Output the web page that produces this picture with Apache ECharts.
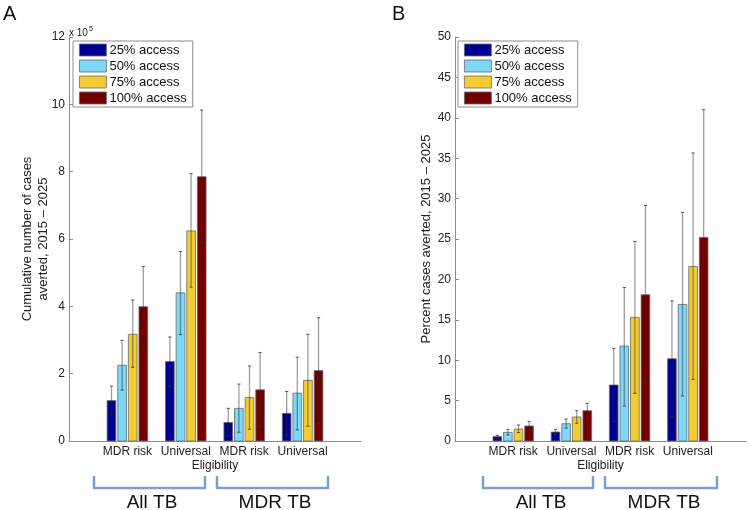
<!DOCTYPE html>
<html>
<head>
<meta charset="utf-8">
<script src="https://cdn.jsdelivr.net/npm/echarts@6/dist/echarts.min.js"></script>
<style>
html,body{margin:0;padding:0;background:#fff;}
#chart{width:749px;height:510px;}
</style>
</head>
<body>
<div id="chart"></div>
<script>
// ---------- data ----------
const categories = ['MDR risk', 'Universal', 'MDR risk', 'Universal'];
const seriesNames = ['25% access', '50% access', '75% access', '100% access'];
const yTicksA = [0, 2, 4, 6, 8, 10, 12];      // x 10^5
const yTicksB = [0, 5, 10, 15, 20, 25, 30, 35, 40, 45, 50];

// Panel A: cumulative cases averted (x 10^5)
const A25     = [1.20, 2.36, 0.55, 0.82];
const A25_lo  = [0.78, 1.62, 0.14, 0.18];
const A25_hi  = [1.63, 3.09, 0.97, 1.47];
const A50     = [2.25, 4.40, 0.97, 1.42];
const A50_lo  = [1.51, 3.16, 0.26, 0.33];
const A50_hi  = [2.99, 5.63, 1.69, 2.49];
const A75     = [3.17, 6.24, 1.29, 1.80];
const A75_lo  = [2.19, 4.57, 0.35, 0.44];
const A75_hi  = [4.19, 7.94, 2.23, 3.17];
const A100    = [3.99, 7.85, 1.52, 2.09];
const A100_lo = [2.80, 5.89, 0.43, 0.52];
const A100_hi = [5.18, 9.83, 2.63, 3.66];

// Panel B: percent cases averted
const B25     = [0.54, 1.11, 6.93, 10.18];
const B25_lo  = [0.38, 0.78, 2.40, 3.00];
const B25_hi  = [0.70, 1.44, 11.46, 17.35];
const B50     = [1.07, 2.14, 11.75, 16.90];
const B50_lo  = [0.75, 1.60, 4.33, 5.57];
const B50_hi  = [1.44, 2.72, 19.00, 28.30];
const B75     = [1.48, 2.97, 15.30, 21.60];
const B75_lo  = [1.05, 2.20, 5.90, 7.63];
const B75_hi  = [1.98, 3.75, 24.70, 35.65];
const B100    = [1.86, 3.75, 18.10, 25.20];
const B100_lo = [1.30, 2.90, 7.20, 9.49];
const B100_hi = [2.43, 4.66, 29.15, 41.00];

// ---------- styling ----------
const colors = ['#000090', '#7dd8f8', '#f3cc33', '#720000'];
const FONT = "'Liberation Sans', Arial, Helvetica, sans-serif";
const GROUPW = 4 / 5.5;            // MATLAB grouped bar width
const BARW = GROUPW / 4 * 0.82;

function offsetFor(s) { return -GROUPW / 2 + (2 * s + 1) * GROUPW / 8; }

function makeRender(s) {
  const off = offsetFor(s);
  return function (params, api) {
    const x = api.value(0), v = api.value(1), lo = api.value(2), hi = api.value(3);
    const pTL = api.coord([x + off - BARW / 2, v]);
    const pBR = api.coord([x + off + BARW / 2, 0]);
    const cx = api.coord([x + off, 0])[0];
    const yl = api.coord([x, lo])[1];
    const yh = api.coord([x, hi])[1];
    const cap = 1.6;
    return {
      type: 'group',
      children: [
        { type: 'rect', shape: { x: pTL[0], y: pTL[1], width: pBR[0] - pTL[0], height: pBR[1] - pTL[1] },
          style: { fill: colors[s], stroke: '#6a6a6a', lineWidth: 0.8 } },
        { type: 'line', shape: { x1: cx, y1: yl, x2: cx, y2: yh },
          style: { stroke: 'rgba(40,40,40,0.45)', lineWidth: 1.3 } },
        { type: 'line', shape: { x1: cx - cap, y1: yh, x2: cx + cap, y2: yh },
          style: { stroke: 'rgba(50,50,50,0.8)', lineWidth: 1 } },
        { type: 'line', shape: { x1: cx - cap, y1: yl, x2: cx + cap, y2: yl },
          style: { stroke: 'rgba(50,50,50,0.8)', lineWidth: 1 } }
      ]
    };
  };
}

function buildData(v, lo, hi) {
  return v.map((val, i) => [i + 1, val, lo[i], hi[i]]);
}

const panelA = [[A25, A25_lo, A25_hi], [A50, A50_lo, A50_hi], [A75, A75_lo, A75_hi], [A100, A100_lo, A100_hi]];
const panelB = [[B25, B25_lo, B25_hi], [B50, B50_lo, B50_hi], [B75, B75_lo, B75_hi], [B100, B100_lo, B100_hi]];

const series = [];
[panelA, panelB].forEach((panel, pi) => {
  panel.forEach((arr, s) => {
    series.push({
      type: 'custom',
      name: seriesNames[s],
      xAxisIndex: pi, yAxisIndex: pi,
      renderItem: makeRender(s),
      itemStyle: { color: colors[s], borderColor: '#6a6a6a', borderWidth: 0.8 },
      encode: { x: 0, y: 1 },
      data: buildData(arr[0], arr[1], arr[2]),
      z: 2 + s
    });
  });
});

function xAxisCfg(gi) {
  return {
    type: 'value', gridIndex: gi, min: 0, max: categories.length + 1, interval: 1,
    name: 'Eligibility', nameLocation: 'middle', nameGap: 19, nameMoveOverlap: false,
    nameTextStyle: { fontFamily: FONT, fontSize: 12, color: '#222' },
    axisLine: { lineStyle: { color: '#8c8c8c', width: 1 } },
    axisTick: { show: false },
    splitLine: { show: false },
    axisLabel: {
      fontFamily: FONT, fontSize: 12, color: '#222', margin: 5,
      formatter: v => (v >= 1 && v <= categories.length) ? categories[v - 1] : ''
    }
  };
}

function yAxisCfg(gi, ticks, name, nameGap) {
  return {
    type: 'value', gridIndex: gi, min: ticks[0], max: ticks[ticks.length - 1],
    interval: ticks[1] - ticks[0],
    name: name, nameLocation: 'middle', nameGap: nameGap, nameMoveOverlap: false,
    nameTextStyle: { fontFamily: FONT, fontSize: 13, color: '#222', lineHeight: 16 },
    axisLine: { show: true, lineStyle: { color: '#8c8c8c', width: 1 } },
    axisTick: { show: true, inside: true, length: 4, lineStyle: { color: '#8c8c8c' } },
    splitLine: { show: false },
    axisLabel: { fontFamily: FONT, fontSize: 12, color: '#222', margin: 4,
      formatter: v => ticks.indexOf(v) >= 0 ? String(v) : '' }
  };
}

function legendCfg(left) {
  return {
    left: left, top: 41, orient: 'vertical',
    data: seriesNames,
    icon: 'rect', itemWidth: 27, itemHeight: 12, itemGap: 0,
    padding: [1, 6, 1, 6],
    backgroundColor: '#fff', borderColor: '#8c8c8c', borderWidth: 1, borderRadius: 0,
    selectedMode: false,
    textStyle: { fontFamily: FONT, fontSize: 13, color: '#111', lineHeight: 16, padding: [0, 0, 0, -2] },
    itemStyle: { borderColor: '#6a6a6a', borderWidth: 0.8 }
  };
}

function bracket(x1, x2) {
  return {
    type: 'polyline',
    shape: { points: [[x1, 476], [x1, 488], [x2, 488], [x2, 476]] },
    style: { stroke: '#7d9ccf', lineWidth: 2.5, fill: null, lineJoin: 'round' }
  };
}
function label(text, cx, size) {
  return { type: 'text', style: { text: text, x: cx, y: 503, align: 'center', verticalAlign: 'middle',
    font: size + 'px ' + FONT, fill: '#111' } };
}

const option = {
  backgroundColor: '#fff',
  animation: false,
  grid: [
    { left: 69, right: 388, top: 37, bottom: 69 },
    { left: 455, right: 3, top: 37, bottom: 69 }
  ],
  xAxis: [xAxisCfg(0), xAxisCfg(1)],
  yAxis: [
    yAxisCfg(0, yTicksA, 'Cumulative number of cases\naverted, 2015 \u2013 2025', 18),
    yAxisCfg(1, yTicksB, 'Percent cases averted, 2015 \u2013 2025', 21)
  ],
  legend: [legendCfg(73), legendCfg(458)],
  series: series,
  graphic: [
    { type: 'text', style: { text: 'A', x: 3, y: 4, font: '20px ' + FONT, fill: '#111' } },
    { type: 'text', style: { text: 'B', x: 392, y: 4, font: '20px ' + FONT, fill: '#111' } },
    { type: 'text', style: { x: 69, y: 24,
        text: '{a|x 10}{b|5}',
        rich: { a: { font: '10px ' + FONT, fill: '#222', padding: [4, 0, 0, 0] },
                b: { font: '7px ' + FONT, fill: '#222', padding: [0, 0, 4, 1] } } } },
    bracket(94, 205), bracket(217, 328),
    label('All TB', 152, 19), label('MDR TB', 275, 19),
    bracket(483, 593), bracket(605, 717),
    label('All TB', 541, 19), label('MDR TB', 664, 19)
  ]
};

const chart = echarts.init(document.getElementById('chart'), null, { renderer: 'canvas' });
chart.setOption(option);
</script>
</body>
</html>
